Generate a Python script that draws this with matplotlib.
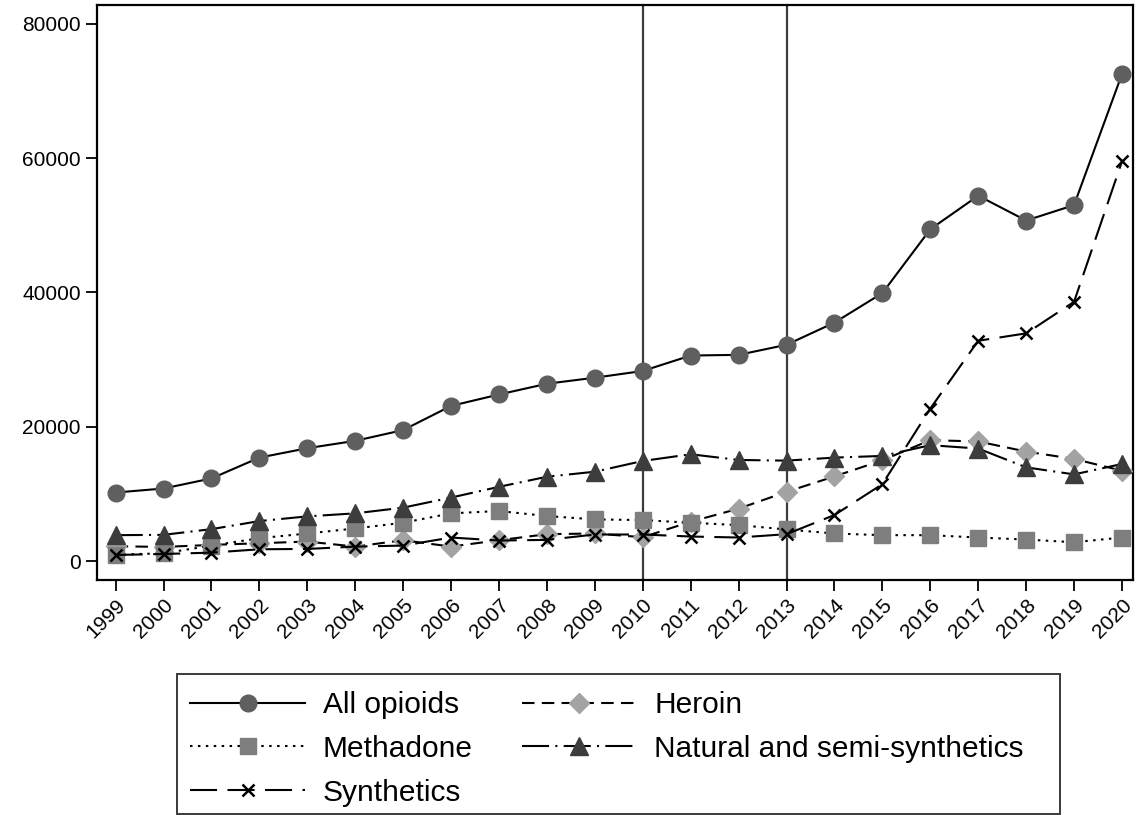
import matplotlib
matplotlib.use("Agg")
import matplotlib.pyplot as plt
from matplotlib.patches import Rectangle

plt.rcParams['font.family'] = ['Liberation Sans', 'DejaVu Sans']

# Deaths by opioid type, 1999-2020
years = list(range(1999, 2021))
all_opioids = [10200, 10800, 12300, 15400, 16800, 17900, 19500, 23100, 24800, 26400, 27300,
               28300, 30600, 30700, 32200, 35500, 39900, 49400, 54400, 50700, 53000, 72500]
heroin = [2200, 2100, 2400, 2650, 2900, 2150, 3100, 2150, 3100, 4000, 4100,
          3550, 5850, 7800, 10300, 12600, 15000, 18000, 17800, 16300, 15200, 13450]
methadone = [950, 1150, 2300, 3400, 4100, 4850, 5700, 7100, 7450, 6700, 6200,
             6100, 5700, 5350, 4700, 4100, 3850, 3850, 3500, 3200, 2800, 3500]
natural = [3850, 3900, 4750, 5950, 6650, 7100, 7950, 9450, 11050, 12550, 13300,
           14900, 15900, 15050, 14950, 15400, 15650, 17250, 16750, 13950, 12900, 14450]
synthetics = [900, 1050, 1250, 1750, 1800, 2150, 2300, 3500, 3050, 3150, 3950,
              3950, 3650, 3500, 4000, 6850, 11450, 22700, 32800, 33900, 38600, 59500]

policy_years = [2010, 2013]
yticks = [0, 20000, 40000, 60000, 80000]

fig = plt.figure(figsize=(11.38, 8.15), dpi=100)
ax = fig.add_axes([0.0852, 0.2883, 0.9104, 0.7056])

for yr in policy_years:
    ax.axvline(yr, color='#3c3c3c', lw=1.6, zorder=1)

lw = 1.5
h_all, = ax.plot(years, all_opioids, '-', color='black', lw=lw, marker='o', ms=12,
                 mfc='#5f5f5f', mec='#5f5f5f', zorder=3)
h_her, = ax.plot(years, heroin, color='black', lw=lw, ls=(0, (6, 3.5)), marker='D', ms=10,
                 mfc='#a3a3a3', mec='#a3a3a3', zorder=4)
h_met, = ax.plot(years, methadone, color='black', lw=lw, ls=(0, (1.2, 2.6)), marker='s', ms=11,
                 mfc='#7e7e7e', mec='#7e7e7e', zorder=5)
h_nat, = ax.plot(years, natural, color='black', lw=lw, ls=(0, (13, 3, 1, 3)), marker='^', ms=12.5,
                 mfc='#3d3d3d', mec='#3d3d3d', zorder=6)
h_syn, = ax.plot(years, synthetics, color='black', lw=lw, ls=(0, (13, 5)), marker='x', ms=8,
                 mew=1.8, mec='black', zorder=7)

ax.set_xlim(1998.61, 2020.23)
ax.set_ylim(-2830, 82800)
ax.set_xticks(years)
ax.set_xticklabels([str(y) for y in years], rotation=45, ha='right', rotation_mode='anchor')
ax.set_yticks(yticks)
ax.set_yticklabels([str(v) for v in yticks])
ax.tick_params(axis='both', direction='out', length=8, width=1.3, labelsize=15, colors='black')
ax.tick_params(axis='x', pad=3)
for sp in ax.spines.values():
    sp.set_linewidth(1.6)
    sp.set_color('black')

# legend box drawn separately so the padding can be uneven
fig.patches.append(Rectangle((0.1555, 0.0012), 0.7762, 0.1717, transform=fig.transFigure,
                             fill=False, edgecolor='#3a3a3a', lw=1.4, zorder=0))

handles = [h_all, h_met, h_syn, h_her, h_nat]
labels = ['All opioids', 'Methadone', 'Synthetics', 'Heroin', 'Natural and semi-synthetics']
fig.legend(handles, labels, ncol=2, loc='upper left', bbox_to_anchor=(0.1670, 0.1522),
           bbox_transform=fig.transFigure, fontsize=21.5, frameon=False,
           handlelength=3.85, handletextpad=0.6, columnspacing=1.63, labelspacing=0.53,
           borderpad=0, borderaxespad=0)

fig.savefig('out.png', dpi=100)
